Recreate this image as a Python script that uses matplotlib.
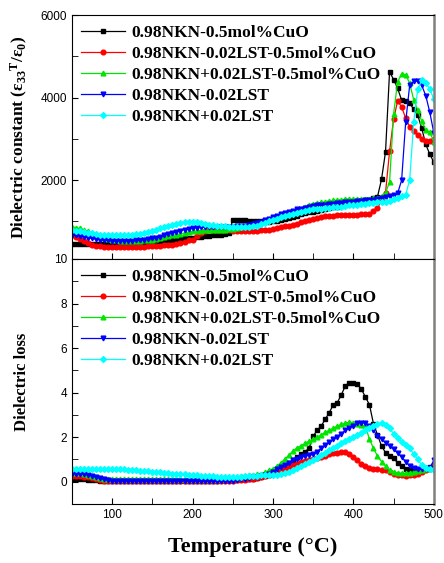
import numpy as np
import matplotlib
matplotlib.use("Agg")
import matplotlib.pyplot as plt
from matplotlib.ticker import MultipleLocator

plt.rcParams['font.family'] = ['Liberation Sans', 'DejaVu Sans']
plt.rcParams['mathtext.fontset'] = 'custom'
plt.rcParams['mathtext.rm'] = 'Liberation Serif:bold'
plt.rcParams['mathtext.it'] = 'Liberation Serif:bold'
plt.rcParams['mathtext.bf'] = 'Liberation Serif:bold'

# temperature grid, 50..500 C every 5 degrees
temperature = list(range(50, 505, 5))

labels = ['0.98NKN-0.5mol%CuO', '0.98NKN-0.02LST-0.5mol%CuO',
          '0.98NKN+0.02LST-0.5mol%CuO', '0.98NKN-0.02LST', '0.98NKN+0.02LST']
colors = ['black', '#ff0000', '#00e600', '#0000ff', '#00ffff']
markers = ['s', 'o', '^', 'v', 'D']

# dielectric constant
eps_black = [450, 450, 450, 450, 450, 450, 450, 450, 455, 460,
             465, 470, 475, 480, 485, 490, 495, 500, 505, 510,
             515, 520, 530, 540, 550, 560, 570, 580, 590, 600,
             610, 620, 630, 640, 650, 660, 670, 680, 700, 720,
             1030, 1030, 1030, 1025, 1020, 1020, 1015, 1010, 1000, 990,
             1000, 1010, 1030, 1050, 1080, 1110, 1140, 1170, 1200, 1220,
             1240, 1260, 1280, 1300, 1320, 1340, 1360, 1380, 1400, 1420,
             1440, 1460, 1480, 1500, 1520, 1560, 1600, 2020, 2690, 4630,
             4440, 4230, 3940, 3910, 3870, 3720, 3575, 3260, 2870, 2630,
             2440]
eps_red = [660, 620, 570, 520, 480, 440, 410, 395, 385, 380,
           380, 380, 380, 380, 380, 380, 385, 390, 390, 395,
           400, 405, 410, 420, 430, 440, 460, 480, 510, 545,
           560, 640, 720, 770, 790, 790, 790, 790, 790, 785,
           780, 775, 770, 770, 770, 775, 780, 785, 790, 800,
           820, 840, 860, 880, 900, 920, 950, 980, 1010, 1040,
           1070, 1090, 1110, 1120, 1130, 1140, 1145, 1150, 1150, 1155,
           1160, 1165, 1170, 1175, 1190, 1250, 1330, 1500, 1700, 2700,
           3480, 3920, 3780, 3500, 3300, 3200, 3100, 3000, 2960, 2940,
           2990]
eps_green = [870, 850, 830, 800, 760, 720, 680, 640, 600, 570,
             550, 540, 535, 530, 530, 530, 530, 535, 540, 550,
             560, 580, 600, 620, 640, 660, 680, 700, 720, 740,
             760, 770, 780, 790, 790, 790, 790, 790, 800, 810,
             820, 840, 860, 880, 900, 930, 960, 990, 1020, 1050,
             1080, 1110, 1140, 1170, 1200, 1230, 1270, 1310, 1350, 1390,
             1420, 1440, 1460, 1480, 1500, 1510, 1520, 1530, 1540, 1550,
             1540, 1540, 1540, 1545, 1550, 1560, 1580, 1620, 1700, 1950,
             3600, 4380, 4580, 4560, 4350, 3950, 3700, 3430, 3210, 3170,
             2930]
eps_blue = [670, 660, 650, 630, 610, 590, 570, 555, 545, 540,
            535, 530, 530, 530, 530, 535, 540, 550, 560, 570,
            590, 610, 630, 660, 690, 720, 750, 780, 800, 820,
            840, 850, 860, 860, 860, 860, 860, 860, 860, 865,
            870, 880, 890, 900, 910, 930, 960, 990, 1030, 1070,
            1110, 1140, 1170, 1200, 1230, 1260, 1290, 1310, 1330, 1350,
            1370, 1390, 1400, 1410, 1420, 1430, 1440, 1450, 1460, 1470,
            1480, 1490, 1500, 1510, 1520, 1530, 1550, 1570, 1590, 1610,
            1630, 1680, 2000, 3400, 4300, 4400, 4400, 4300, 4050, 3650,
            3150]
eps_cyan = [790, 780, 770, 750, 730, 710, 690, 680, 670, 665,
            665, 665, 665, 665, 670, 680, 690, 700, 720, 740,
            770, 800, 830, 860, 890, 920, 950, 970, 985, 990,
            985, 975, 960, 940, 920, 910, 900, 890, 880, 870,
            865, 860, 860, 860, 870, 880, 900, 930, 960, 1000,
            1040, 1070, 1100, 1130, 1160, 1190, 1210, 1230, 1250, 1270,
            1290, 1300, 1310, 1320, 1330, 1340, 1350, 1360, 1370, 1390,
            1400, 1410, 1420, 1430, 1440, 1450, 1460, 1470, 1480, 1500,
            1550, 1580, 1610, 1650, 2000, 3400, 4200, 4420, 4350, 4220,
            3960]

# dielectric loss
loss_black = [0.12, 0.12, 0.12, 0.10, 0.08, 0.07, 0.06, 0.05, 0.05, 0.05,
              0.05, 0.05, 0.05, 0.05, 0.05, 0.05, 0.05, 0.05, 0.05, 0.05,
              0.05, 0.05, 0.05, 0.05, 0.05, 0.05, 0.05, 0.05, 0.05, 0.05,
              0.05, 0.05, 0.05, 0.05, 0.05, 0.05, 0.05, 0.06, 0.06, 0.07,
              0.08, 0.09, 0.10, 0.11, 0.12, 0.14, 0.16, 0.20, 0.25, 0.30,
              0.40, 0.48, 0.58, 0.70, 0.82, 0.95, 1.10, 1.22, 1.35, 1.50,
              2.05, 2.30, 2.50, 2.80, 3.10, 3.45, 3.55, 3.90, 4.30, 4.45,
              4.45, 4.40, 4.15, 3.80, 3.45, 2.60, 2.10, 1.60, 1.30, 1.15,
              1.05, 0.85, 0.70, 0.55, 0.50, 0.48, 0.50, 0.55, 0.60, 0.65,
              0.70]
loss_red = [0.25, 0.25, 0.24, 0.22, 0.20, 0.17, 0.13, 0.09, 0.05, 0.02,
            0.03, 0.04, 0.05, 0.05, 0.05, 0.05, 0.05, 0.05, 0.05, 0.05,
            0.05, 0.05, 0.05, 0.05, 0.05, 0.05, 0.05, 0.05, 0.05, 0.05,
            0.05, 0.05, 0.05, 0.05, 0.05, 0.05, 0.05, 0.05, 0.05, 0.05,
            0.05, 0.06, 0.07, 0.08, 0.10, 0.12, 0.15, 0.20, 0.25, 0.30,
            0.36, 0.42, 0.50, 0.58, 0.66, 0.73, 0.80, 0.86, 0.92, 0.97,
            1.02, 1.07, 1.12, 1.17, 1.22, 1.27, 1.30, 1.33, 1.35, 1.25,
            1.12, 0.95, 0.78, 0.68, 0.62, 0.58, 0.55, 0.53, 0.50, 0.45,
            0.35, 0.30, 0.28, 0.27, 0.28, 0.30, 0.35, 0.42, 0.50, 0.58,
            0.75]
loss_green = [0.40, 0.40, 0.38, 0.35, 0.30, 0.25, 0.20, 0.16, 0.13, 0.11,
              0.10, 0.10, 0.10, 0.10, 0.10, 0.10, 0.10, 0.10, 0.10, 0.10,
              0.10, 0.10, 0.10, 0.10, 0.10, 0.10, 0.10, 0.10, 0.10, 0.10,
              0.10, 0.10, 0.10, 0.10, 0.10, 0.10, 0.12, 0.14, 0.16, 0.18,
              0.20, 0.22, 0.24, 0.26, 0.28, 0.30, 0.32, 0.36, 0.42, 0.50,
              0.58, 0.70, 0.85, 1.02, 1.20, 1.38, 1.52, 1.62, 1.72, 1.82,
              1.90, 2.00, 2.10, 2.22, 2.30, 2.40, 2.50, 2.57, 2.62, 2.67,
              2.65, 2.60, 2.55, 2.50, 1.90, 1.50, 1.15, 0.90, 0.70, 0.52,
              0.44, 0.40, 0.38, 0.38, 0.40, 0.44, 0.48, 0.52, 0.56, 0.62,
              0.70]
loss_blue = [0.35, 0.35, 0.35, 0.33, 0.30, 0.25, 0.20, 0.15, 0.10, 0.06,
             0.03, 0.02, 0.02, 0.02, 0.02, 0.02, 0.02, 0.02, 0.02, 0.02,
             0.02, 0.02, 0.02, 0.02, 0.02, 0.02, 0.02, 0.02, 0.02, 0.02,
             0.02, 0.02, 0.02, 0.02, 0.02, 0.02, 0.02, 0.02, 0.03, 0.04,
             0.05, 0.07, 0.10, 0.13, 0.16, 0.19, 0.22, 0.26, 0.30, 0.36,
             0.45, 0.55, 0.65, 0.75, 0.85, 0.95, 1.03, 1.10, 1.17, 1.20,
             1.22, 1.35, 1.50, 1.65, 1.78, 1.90, 2.02, 2.15, 2.30, 2.42,
             2.52, 2.62, 2.64, 2.64, 2.50, 2.30, 2.05, 1.90, 1.75, 1.60,
             1.45, 1.30, 1.10, 0.90, 0.70, 0.60, 0.55, 0.55, 0.58, 0.62,
             0.95]
loss_cyan = [0.55, 0.55, 0.55, 0.55, 0.55, 0.55, 0.55, 0.55, 0.55, 0.55,
             0.55, 0.55, 0.55, 0.55, 0.54, 0.52, 0.50, 0.48, 0.47, 0.46,
             0.45, 0.44, 0.42, 0.40, 0.38, 0.36, 0.35, 0.33, 0.32, 0.30,
             0.29, 0.28, 0.27, 0.26, 0.25, 0.24, 0.23, 0.22, 0.22, 0.22,
             0.22, 0.22, 0.23, 0.24, 0.25, 0.26, 0.27, 0.28, 0.29, 0.30,
             0.30, 0.30, 0.33, 0.38, 0.45, 0.52, 0.60, 0.68, 0.78, 0.88,
             0.98, 1.08, 1.18, 1.30, 1.42, 1.52, 1.62, 1.72, 1.82, 1.90,
             2.00, 2.10, 2.20, 2.30, 2.40, 2.50, 2.60, 2.62, 2.55, 2.40,
             2.15, 1.95, 1.80, 1.65, 1.50, 1.25, 1.00, 0.75, 0.62, 0.55,
             0.52]

eps_all = [eps_black, eps_red, eps_green, eps_blue, eps_cyan]
loss_all = [loss_black, loss_red, loss_green, loss_blue, loss_cyan]

fig = plt.figure(figsize=(4.44, 5.63), dpi=100)
ax1 = fig.add_axes([0.162, 0.540, 0.815, 0.433])
ax2 = fig.add_axes([0.162, 0.105, 0.815, 0.435], sharex=ax1)

for ax, data in ((ax1, eps_all), (ax2, loss_all)):
    for y, c, m, lab in zip(data, colors, markers, labels):
        ax.plot(temperature, y, color=c, marker=m, markersize=3.4 if m != 'D' else 3.0,
                linewidth=0.9, label=lab)
    ax.tick_params(which='both', direction='in', labelsize=8.5, length=4)
    ax.xaxis.set_major_locator(MultipleLocator(100))
    ax.xaxis.set_minor_locator(MultipleLocator(50))
    ax.spines['right'].set_color('0.5')
    ax.spines['right'].set_linewidth(1.8)
    ax.legend(loc='upper left', frameon=False, numpoints=1, handlelength=2.5,
              handletextpad=0.4, labelspacing=0.28, borderaxespad=0.15,
              prop={'family': 'Liberation Serif', 'weight': 'bold', 'size': 12.5})

ax1.set_xlim(50, 500)
ax1.set_ylim(90, 6000)
ax1.yaxis.set_major_locator(MultipleLocator(2000))
ax1.yaxis.set_minor_locator(MultipleLocator(1000))
ax1.tick_params(labelbottom=False)

ax2.set_ylim(-1, 10)
ax2.yaxis.set_major_locator(MultipleLocator(2))
ax2.yaxis.set_minor_locator(MultipleLocator(1))

lab_font = {'family': 'Liberation Serif', 'weight': 'bold'}
ax1.set_ylabel(r'Dielectric constant (ε$_{33}$$^{T}$/ε$_{0}$)', fontdict=lab_font, fontsize=12.5)
ax2.set_ylabel('Dielectric loss', fontdict=lab_font, fontsize=12)
ax2.set_xlabel('Temperature (°C)', fontdict=lab_font, fontsize=16, labelpad=12)
ax1.yaxis.set_label_coords(-0.115, 0.5)
ax2.yaxis.set_label_coords(-0.115, 0.5)

fig.savefig('out.png', dpi=100)
